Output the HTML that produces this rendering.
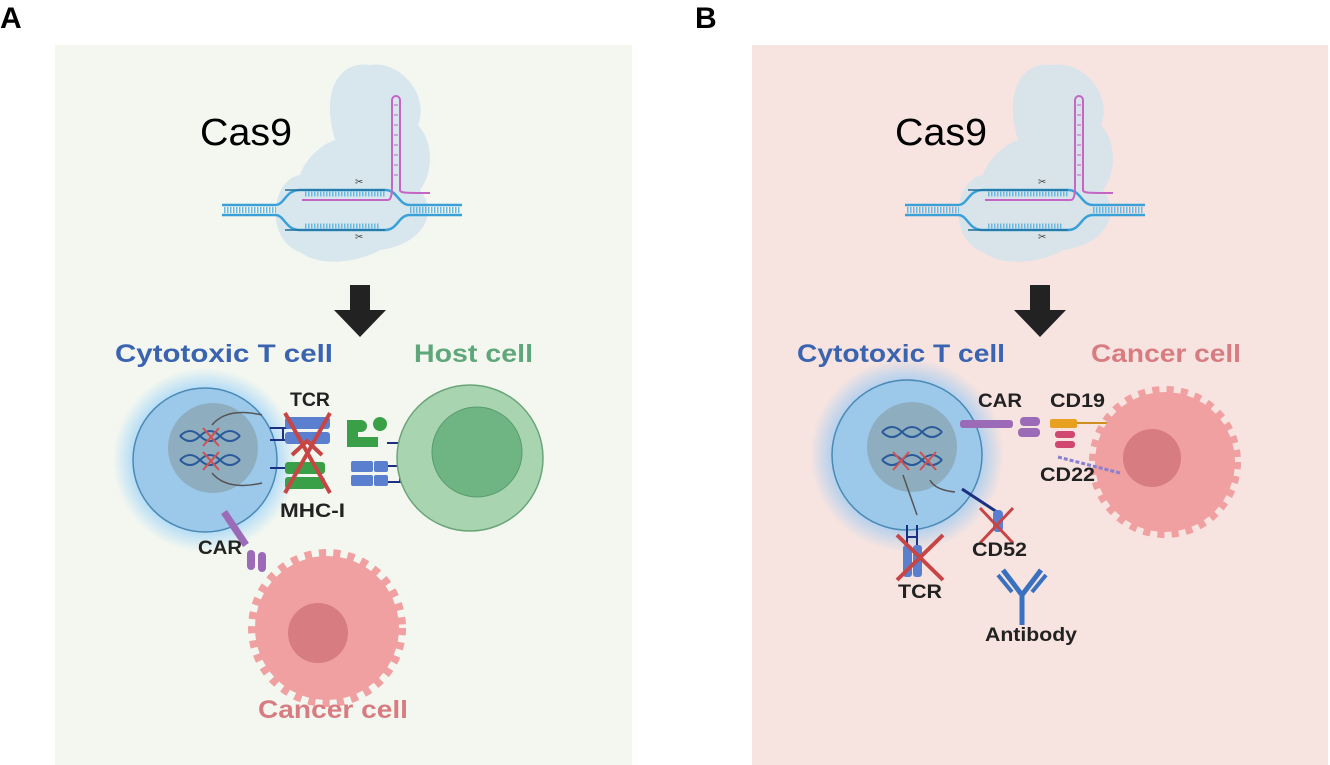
<!DOCTYPE html>
<html><head><meta charset="utf-8"><style>
body{margin:0;background:#fff}
svg{display:block}
text{font-family:"Liberation Sans",Arial,sans-serif}
.b{font-weight:bold}
</style></head><body>
<svg width="1330" height="765" viewBox="0 0 1330 765" xmlns="http://www.w3.org/2000/svg">
<defs>
<radialGradient id="glow" cx="50%" cy="50%" r="50%">
<stop offset="72%" stop-color="#5fb8ff" stop-opacity="0.9"/>
<stop offset="100%" stop-color="#5fb8ff" stop-opacity="0"/>
</radialGradient>
<g id="cas">
<path d="M300,175 C270,180 265,240 300,252 C320,268 360,262 380,250 C420,245 440,215 420,190 C435,170 432,140 418,125 C430,95 400,60 370,65 C340,60 320,90 335,140 C320,145 305,160 300,175Z" fill="#cfe2ec" opacity="0.8"/>
<g stroke="#3aa0d8" stroke-width="2.5" fill="none">
<path d="M222,205 H275 C285,205 285,190 300,190 H385 C398,190 398,205 410,205 H462"/>
<path d="M222,215 H275 C285,215 285,230 300,230 H385 C398,230 398,215 410,215 H462"/>
</g>
<g stroke="#1f6f98" stroke-width="1.5" fill="none">
<path d="M285,190 H385"/><path d="M285,230 H385"/>
</g>
<path d="M224,210 H276 M410,210 H460" stroke="#6bb8e0" stroke-width="6" stroke-dasharray="1.5 1.5"/>
<path d="M305,194 H385 M305,226 H380" stroke="#6bb8e0" stroke-width="5" stroke-dasharray="1.5 1.5"/>
<path d="M302,200 H388 C392,200 392,190 392,185 V100 A4,4 0 0 1 400,100 V190 C400,193 405,193 430,193" stroke="#c566c5" stroke-width="2" fill="none"/>
<path d="M394,105 H398 M394,115 H398 M394,125 H398 M394,135 H398 M394,145 H398 M394,155 H398 M394,165 H398 M394,175 H398" stroke="#c566c5" stroke-width="1"/>
<text x="355" y="185" font-size="10" fill="#444">✂</text>
<text x="355" y="240" font-size="10" fill="#444">✂</text>
</g>
</defs>

<rect x="55" y="45" width="577" height="720" fill="#f3f7f0"/>
<rect x="752" y="45" width="576" height="720" fill="#f7e4e0"/>
<text x="0" y="28" font-size="30" class="b" fill="#000">A</text>
<text x="695" y="28" font-size="30" class="b" fill="#000">B</text>

<!-- Panel A -->
<use href="#cas"/>
<text x="200" y="145" font-size="38" fill="#000" textLength="92" lengthAdjust="spacingAndGlyphs">Cas9</text>
<rect x="350" y="285" width="20" height="27" fill="#222"/>
<polygon points="334,310 386,310 360,337" fill="#222"/>

<text x="115" y="362" font-size="25" class="b" fill="#3a63b0" textLength="218" lengthAdjust="spacingAndGlyphs">Cytotoxic T cell</text>
<text x="414" y="362" font-size="25" class="b" fill="#5fa77a" textLength="119" lengthAdjust="spacingAndGlyphs">Host cell</text>

<circle cx="205" cy="460" r="92" fill="url(#glow)" opacity="0.6"/>
<circle cx="205" cy="460" r="72" fill="#9cc8ea" stroke="#4a8ab5" stroke-width="1.5"/>
<circle cx="213" cy="448" r="45" fill="#8eaec0"/>
<g stroke="#2a5a9a" stroke-width="2" fill="none">
<path d="M180,436 q10,-10 20,0 t20,0 t20,0"/><path d="M180,436 q10,10 20,0 t20,0 t20,0"/>
<path d="M180,460 q10,-10 20,0 t20,0 t20,0"/><path d="M180,460 q10,10 20,0 t20,0 t20,0"/>
</g>
<path d="M203,428 l16,18 M219,428 l-16,18 M203,452 l16,18 M219,452 l-16,18" stroke="#d05050" stroke-width="2"/>
<path d="M212,425 q15,-18 50,-10 M212,473 q15,18 50,10" stroke="#555" stroke-width="1.5" fill="none"/>
<g stroke="#1d2f80" stroke-width="2" fill="none">
<path d="M270,428 H290 M270,440 H290 M283,428 V440 M270,468 H290"/>
<path d="M412,443 H387 M412,482 H388 M412,466 H388 M400,466 V482"/>
</g>
<rect x="285" y="417" width="45" height="12" rx="3" fill="#5b7fcf"/>
<rect x="285" y="432" width="45" height="12" rx="3" fill="#5b7fcf"/>
<rect x="285" y="462" width="40" height="12" rx="3" fill="#3aa047"/>
<rect x="285" y="477" width="40" height="12" rx="3" fill="#3aa047"/>
<path d="M285,413 L330,493 M330,413 L285,493" stroke="#c84545" stroke-width="4"/>
<path d="M292,455 l15,-14 l15,14" stroke="#c84545" stroke-width="4" fill="none"/>
<path d="M347,420 h14 a6,6 0 0 1 0,12 h-3 v5 h20 v10 h-31z" fill="#3aa047"/>
<circle cx="380" cy="424" r="7" fill="#3aa047"/>
<rect x="351" y="461" width="22" height="11" rx="2" fill="#5b7fcf"/><rect x="374" y="461" width="14" height="11" rx="2" fill="#5b7fcf"/>
<rect x="351" y="475" width="22" height="11" rx="2" fill="#5b7fcf"/><rect x="374" y="475" width="14" height="11" rx="2" fill="#5b7fcf"/>
<text x="290" y="406" font-size="19" class="b" fill="#222" textLength="40" lengthAdjust="spacingAndGlyphs">TCR</text>
<text x="280" y="517" font-size="19" class="b" fill="#222" textLength="65" lengthAdjust="spacingAndGlyphs">MHC-I</text>

<circle cx="470" cy="458" r="73" fill="#a8d5b0" stroke="#6aa578" stroke-width="1.5"/>
<circle cx="477" cy="452" r="45" fill="#6fb584" stroke="#5a9a6c"/>

<path d="M224,512 L246,545" stroke="#9b6bb8" stroke-width="7"/>
<rect x="247" y="550" width="8" height="20" rx="4" fill="#9b6bb8"/>
<rect x="258" y="552" width="8" height="20" rx="4" fill="#9b6bb8"/>
<text x="198" y="554" font-size="19" class="b" fill="#222" textLength="44" lengthAdjust="spacingAndGlyphs">CAR</text>

<circle cx="327" cy="628" r="72" fill="#f0a0a0"/>
<circle cx="327" cy="628" r="73" fill="none" stroke="#f0a0a0" stroke-width="12" stroke-dasharray="7 7"/>
<circle cx="318" cy="633" r="30" fill="#d77c80"/>
<text x="258" y="718" font-size="25" class="b" fill="#d77c80" textLength="150" lengthAdjust="spacingAndGlyphs">Cancer cell</text>

<!-- Panel B -->
<use href="#cas" transform="translate(683,0)"/>
<text x="895" y="145" font-size="38" fill="#000" textLength="92" lengthAdjust="spacingAndGlyphs">Cas9</text>
<rect x="1030" y="285" width="20" height="27" fill="#222"/>
<polygon points="1014,310 1066,310 1040,337" fill="#222"/>

<text x="797" y="362" font-size="25" class="b" fill="#3a63b0" textLength="208" lengthAdjust="spacingAndGlyphs">Cytotoxic T cell</text>
<text x="1091" y="362" font-size="25" class="b" fill="#d77c80" textLength="150" lengthAdjust="spacingAndGlyphs">Cancer cell</text>

<circle cx="907" cy="455" r="97" fill="url(#glow)" opacity="0.6"/>
<circle cx="907" cy="455" r="75" fill="#9cc8ea" stroke="#4a8ab5" stroke-width="1.5"/>
<circle cx="912" cy="447" r="45" fill="#8eaec0"/>
<g stroke="#2a5a9a" stroke-width="2" fill="none">
<path d="M882,432 q10,-10 20,0 t20,0 t20,0"/><path d="M882,432 q10,10 20,0 t20,0 t20,0"/>
<path d="M882,460 q10,-10 20,0 t20,0 t20,0"/><path d="M882,460 q10,10 20,0 t20,0 t20,0"/>
</g>
<path d="M893,452 l16,18 M909,452 l-16,18 M920,452 l16,18 M936,452 l-16,18" stroke="#d05050" stroke-width="2"/>
<path d="M903,475 L917,515 M930,480 q5,10 25,12" stroke="#555" stroke-width="1.5" fill="none"/>
<path d="M962,489 L997,512" stroke="#1d2f80" stroke-width="3"/>
<rect x="960" y="420" width="53" height="8" rx="3" fill="#9b6bb8"/>
<rect x="1020" y="417" width="20" height="9" rx="4" fill="#9b6bb8"/>
<rect x="1018" y="428" width="22" height="9" rx="4" fill="#9b6bb8"/>
<rect x="1050" y="419" width="27" height="9" rx="2" fill="#e8a020"/>
<path d="M1077,423 H1115" stroke="#d09020" stroke-width="2"/>

<circle cx="1165" cy="462" r="70" fill="#f0a0a0"/>
<circle cx="1165" cy="462" r="71" fill="none" stroke="#f0a0a0" stroke-width="10" stroke-dasharray="7 7"/>
<circle cx="1152" cy="458" r="29" fill="#d77c80"/>
<rect x="1055" y="431" width="20" height="7" rx="3" fill="#d04870"/>
<rect x="1055" y="441" width="20" height="7" rx="3" fill="#d04870"/>
<path d="M1058,457 L1120,473" stroke="#8a80d0" stroke-width="3" stroke-dasharray="4 2"/>
<text x="978" y="407" font-size="19" class="b" fill="#222" textLength="44" lengthAdjust="spacingAndGlyphs">CAR</text>
<text x="1050" y="407" font-size="19" class="b" fill="#222" textLength="55" lengthAdjust="spacingAndGlyphs">CD19</text>
<text x="1040" y="481" font-size="19" class="b" fill="#222" textLength="55" lengthAdjust="spacingAndGlyphs">CD22</text>

<rect x="993" y="510" width="10" height="22" rx="4" fill="#5b7fcf"/>
<path d="M980,508 L1013,543 M1013,508 L980,543" stroke="#c84545" stroke-width="3"/>
<text x="972" y="556" font-size="19" class="b" fill="#222" textLength="55" lengthAdjust="spacingAndGlyphs">CD52</text>
<path d="M907,525 V545 M917,525 V545 M907,537 H917" stroke="#1d2f80" stroke-width="2"/>
<rect x="903" y="545" width="9" height="32" rx="3" fill="#5b7fcf"/><rect x="913" y="545" width="9" height="32" rx="3" fill="#5b7fcf"/>
<path d="M897,535 L943,580 M943,535 L897,580" stroke="#c84545" stroke-width="4"/>
<text x="898" y="598" font-size="19" class="b" fill="#222" textLength="44" lengthAdjust="spacingAndGlyphs">TCR</text>
<path d="M1022,625 V595 L1003,570 M1022,595 L1041,570" stroke="#3a70c0" stroke-width="5" fill="none"/>
<path d="M998,575 L1012,592 M1046,575 L1032,592" stroke="#3a70c0" stroke-width="4"/>
<text x="985" y="641" font-size="19" class="b" fill="#222" textLength="92" lengthAdjust="spacingAndGlyphs">Antibody</text>
</svg>
</body></html>
